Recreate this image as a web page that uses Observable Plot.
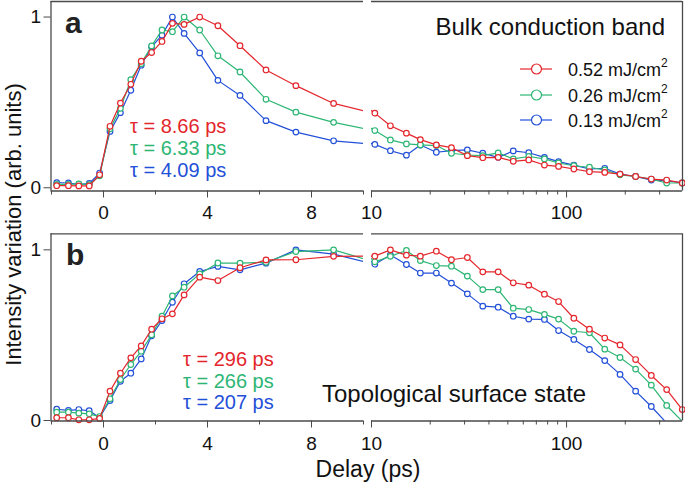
<!DOCTYPE html>
<html><head><meta charset="utf-8">
<script src="https://cdn.jsdelivr.net/npm/d3@7"></script>
<script src="https://cdn.jsdelivr.net/npm/@observablehq/plot@0.6"></script>
<style>
body{margin:0;background:#fff;}
#chart{position:relative;width:685px;height:483px;font-family:"Liberation Sans",Arial,Helvetica,sans-serif;}
#chart svg{position:absolute;}
</style></head><body><div id="chart"></div>
<script>
// ---- data ----
const delays = [-1.8, -1.35, -0.95, -0.55, -0.15, 0.25, 0.65, 1.05, 1.45, 1.85, 2.25, 2.65, 3.1, 3.7, 4.4, 5.25, 6.25, 7.4, 8.85,
  10.4, 12.5, 15.1, 17.8, 21.5, 25.7, 31, 37.2, 44.6, 53.3, 64, 77, 91, 109, 131, 157, 188, 226, 272, 326, 392];

const bulk052 = [0.012, 0.012, 0.011, 0.011, 0.076, 0.36, 0.496, 0.606, 0.741, 0.792, 0.857, 0.963, 0.957, 1.0, 0.949, 0.832, 0.69, 0.598, 0.494,
  0.437, 0.363, 0.32, 0.282, 0.251, 0.235, 0.188, 0.176, 0.178, 0.155, 0.163, 0.133, 0.125, 0.11, 0.094, 0.09, 0.08, 0.066, 0.051, 0.045, 0.028];
const bulk026 = [0.02, 0.02, 0.022, 0.018, 0.07, 0.345, 0.465, 0.633, 0.727, 0.831, 0.924, 0.914, 1.0, 0.924, 0.773, 0.678, 0.518, 0.443, 0.383,
  0.335, 0.28, 0.257, 0.251, 0.247, 0.202, 0.192, 0.188, 0.204, 0.169, 0.183, 0.169, 0.145, 0.129, 0.12, 0.104, 0.076, 0.066, 0.051, 0.028, 0.028];
const bulk013 = [0.03, 0.028, 0.02, 0.025, 0.086, 0.33, 0.44, 0.571, 0.718, 0.825, 0.894, 1.0, 0.904, 0.79, 0.629, 0.541, 0.393, 0.326, 0.275,
  0.254, 0.217, 0.191, 0.25, 0.208, 0.218, 0.222, 0.202, 0.178, 0.216, 0.205, 0.178, 0.153, 0.133, 0.11, 0.114, 0.08, 0.066, 0.045, 0.041, 0.028];

const surf052 = [0.016, 0.016, 0.004, 0.004, 0.012, 0.172, 0.277, 0.367, 0.437, 0.535, 0.596, 0.625, 0.736, 0.84, 0.82, 0.895, 0.941, 0.942, 0.962,
  0.963, 1.0, 0.969, 0.963, 0.992, 0.942, 0.955, 0.871, 0.871, 0.807, 0.793, 0.74, 0.697, 0.599, 0.535, 0.483, 0.443, 0.357, 0.264, 0.181, 0.064];
const surf026 = [0.049, 0.049, 0.043, 0.039, 0.023, 0.127, 0.24, 0.328, 0.406, 0.502, 0.611, 0.73, 0.781, 0.859, 0.923, 0.922, 0.927, 0.99, 1.0,
  0.93, 0.962, 0.996, 0.937, 0.908, 0.904, 0.846, 0.767, 0.767, 0.658, 0.65, 0.622, 0.594, 0.523, 0.514, 0.418, 0.369, 0.301, 0.207, 0.088, -0.005];
const surf013 = [0.066, 0.059, 0.064, 0.057, 0.018, 0.117, 0.23, 0.277, 0.361, 0.496, 0.586, 0.693, 0.801, 0.873, 0.903, 0.883, 0.922, 1.0, 0.975,
  0.916, 0.97, 0.914, 0.864, 0.864, 0.805, 0.742, 0.67, 0.664, 0.611, 0.594, 0.592, 0.527, 0.475, 0.416, 0.351, 0.27, 0.172, 0.082, -0.015, -0.1];

const fluences = ["0.52", "0.26", "0.13"];
const fluenceUnit = "mJ/cm";
const colors = ["#e4262c", "#2db674", "#2350d8"];
const tauBulk = ["8.66", "6.33", "4.09"];
const tauSurf = ["296", "266", "207"];
const linMajorTicks = [0, 4, 8];
const linMinorTicks = [-2, 2, 6, 10];
const logMajorTicks = [10, 100];
const logMinorTicks = [20, 30, 40, 50, 60, 70, 80, 90, 200, 300];
const yTicks = [0, 1];
const panelTitles = ["Bulk conduction band", "Topological surface state"];
const panelLetters = ["a", "b"];
const xLabel = "Delay (ps)";
const yLabel = "Intensity variation (arb. units)";

// ---- build ----
const FONT = "'Liberation Sans', Arial, Helvetica, sans-serif";
const AX = "#4a4a4a";
const chart = document.getElementById("chart");

function seriesRows(values) {
  return values.map((v, i) => ({delay: delays[i], value: v}));
}
const bulkSeries = [bulk013, bulk026, bulk052].map((v, i) => ({rows: seriesRows(v), color: colors[2 - i]}));
const surfSeries = [surf013, surf026, surf052].map((v, i) => ({rows: seriesRows(v), color: colors[2 - i]}));

function segment(series, o) {
  const isLeft = o.side === "left";
  const [y0, y1] = o.yDomain;
  const marks = [];
  for (const s of series) {
    const lineRows = isLeft ? s.rows.filter(d => d.delay <= 10.5) : s.rows.filter(d => d.delay >= 8);
    marks.push(Plot.line(lineRows, {x: "delay", y: "value", stroke: s.color, strokeWidth: 1.2, clip: true}));
    marks.push(Plot.dot(s.rows, {
      x: "delay", y: "value", r: 2.8, stroke: s.color, strokeWidth: 1.2, fill: "white",
      filter: d => (isLeft ? d.delay < 10 : d.delay > 10) && d.value >= y0
    }));
  }
  marks.push(Plot.ruleY([y0], {stroke: AX, strokeWidth: 1.3}));
  marks.push(Plot.ruleY([y1], {stroke: AX, strokeWidth: 1.3}));
  marks.push(Plot.ruleX([isLeft ? o.xDomain[0] : o.xDomain[1]], {stroke: AX, strokeWidth: 1.3}));
  marks.push(Plot.axisX({ticks: isLeft ? linMajorTicks : logMajorTicks, tickSize: 7, tickPadding: o.tickPad,
    fontSize: 19, tickFormat: d => String(d), label: null, stroke: AX, fill: "#111"}));
  marks.push(Plot.axisX({ticks: isLeft ? linMinorTicks : logMinorTicks, tickSize: 4, tickFormat: () => "", label: null, stroke: AX}));
  if (isLeft) {
    marks.push(Plot.axisY({ticks: yTicks, tickSize: 7, tickPadding: 3, fontSize: 19, tickFormat: d => String(d), label: null, stroke: AX, fill: "#111"}));
  }
  const svg = Plot.plot({
    width: o.width, height: o.height,
    marginLeft: o.mL, marginRight: o.mR, marginTop: o.mT, marginBottom: o.mB,
    style: {background: "transparent", overflow: "visible", fontFamily: FONT},
    x: {type: isLeft ? "linear" : "log", domain: o.xDomain, label: null},
    y: {domain: o.yDomain, label: null, axis: isLeft ? undefined : null},
    marks
  });
  svg.style.left = o.left + "px";
  svg.style.top = o.top + "px";
  chart.appendChild(svg);
}

const yA = [-0.019, 1.091];
const yB = [-0.003, 1.094];
segment(bulkSeries, {side: "left", xDomain: [-2.02, 10], yDomain: yA, left: 0, top: 0, width: 366, height: 226, mL: 50.5, mR: 3, mT: 1, mB: 35.5, tickPad: 7});
segment(bulkSeries, {side: "right", xDomain: [10, 393], yDomain: yA, left: 366, top: 0, width: 319, height: 226, mL: 5, mR: 3, mT: 1, mB: 35.5, tickPad: 7});
segment(surfSeries, {side: "left", xDomain: [-2.02, 10], yDomain: yB, left: 0, top: 222, width: 366, height: 261, mL: 50.5, mR: 3, mT: 11.3, mB: 62.5, tickPad: 8.5});
segment(surfSeries, {side: "right", xDomain: [10, 393], yDomain: yB, left: 366, top: 222, width: 319, height: 261, mL: 5, mR: 3, mT: 11.3, mB: 62.5, tickPad: 8.5});

// ---- text overlay ----
const ov = d3.select(chart).append("svg")
  .attr("width", 685).attr("height", 483)
  .style("left", "0px").style("top", "0px").style("pointer-events", "none")
  .attr("font-family", FONT);

ov.append("text").attr("x", 65).attr("y", 33).attr("font-size", 30).attr("font-weight", "bold").attr("fill", "#222").text(panelLetters[0]);
ov.append("text").attr("x", 66).attr("y", 265).attr("font-size", 30).attr("font-weight", "bold").attr("fill", "#222").text(panelLetters[1]);

ov.append("text").attr("x", 665).attr("y", 35).attr("text-anchor", "end").attr("font-size", 24).attr("fill", "#111").text(panelTitles[0]);
ov.append("text").attr("x", 322).attr("y", 401.5).attr("font-size", 24).attr("fill", "#111").text(panelTitles[1]);

// legend
const legY = [69, 95, 120];
fluences.forEach((f, i) => {
  const g = ov.append("g");
  g.append("line").attr("x1", 520).attr("x2", 552).attr("y1", legY[i]).attr("y2", legY[i]).attr("stroke", colors[i]).attr("stroke-width", 1.2);
  g.append("circle").attr("cx", 536.5).attr("cy", legY[i]).attr("r", 5).attr("fill", "white").attr("stroke", colors[i]).attr("stroke-width", 1.2);
  const t = g.append("text").attr("x", 568).attr("y", legY[i] + 6.5).attr("font-size", 18).attr("fill", "#111");
  t.append("tspan").text(f + " " + fluenceUnit);
  t.append("tspan").attr("dy", -9).attr("font-size", 12).text("2");
});

// tau labels
const tauAY = [132.5, 154.5, 176.5];
tauBulk.forEach((v, i) => {
  ov.append("text").attr("x", 130).attr("y", tauAY[i]).attr("font-size", 20).attr("fill", colors[i]).text("τ = " + v + " ps");
});
const tauBY = [366, 387.5, 409];
tauSurf.forEach((v, i) => {
  ov.append("text").attr("x", 183).attr("y", tauBY[i]).attr("font-size", 20).attr("fill", colors[i]).text("τ = " + v + " ps");
});

ov.append("text").attr("x", 368).attr("y", 476.5).attr("text-anchor", "middle").attr("font-size", 23).attr("fill", "#111").text(xLabel);
ov.append("text").attr("transform", "translate(21,224.5) rotate(-90)").attr("text-anchor", "middle").attr("font-size", 22).attr("fill", "#111").text(yLabel);
</script></body></html>
